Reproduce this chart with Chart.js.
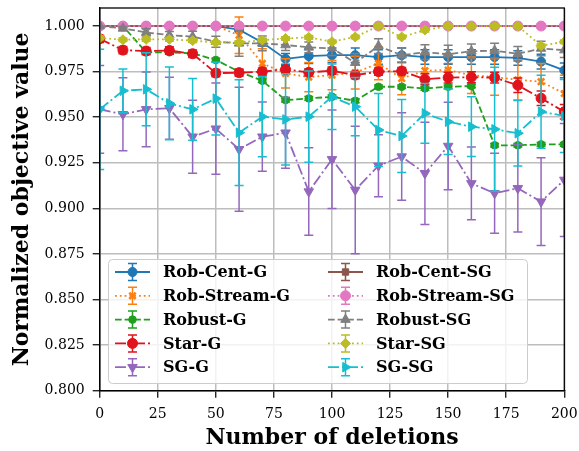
<!DOCTYPE html>
<html>
<head>
<meta charset="utf-8">
<script src="https://cdn.jsdelivr.net/npm/chart.js@4.4.1/dist/chart.umd.min.js"></script>
<style>
  html, body { margin: 0; padding: 0; background: #fff; }
</style>
</head>
<body>
<canvas id="myChart" width="579" height="451"></canvas>
<script>
// x values and ticks
const deletions = [0, 10, 20, 30, 40, 50, 60, 70, 80, 90, 100, 110, 120, 130, 140, 150, 160, 170, 180, 190, 200];
const xTicks = [0, 25, 50, 75, 100, 125, 150, 175, 200];
const yTicks = [0.800, 0.825, 0.850, 0.875, 0.900, 0.925, 0.950, 0.975, 1.000];

// series (mean values) and error bar half widths
const robCentG = [1.000, 1.000, 1.000, 1.000, 1.000, 1.000, 0.998, 0.991, 0.982, 0.9835, 0.984, 0.984, 0.983, 0.984, 0.983, 0.983, 0.983, 0.983, 0.9825, 0.9805, 0.9757];
const robCentGErr = [0, 0, 0, 0, 0, 0, 0.001, 0.002, 0.003, 0.004, 0.004, 0.004, 0.004, 0.004, 0.004, 0.004, 0.004, 0.004, 0.004, 0.004, 0.004];

const robStreamG = [1.000, 1.000, 1.000, 1.000, 1.000, 1.000, 0.995, 0.9795, 0.974, 0.972, 0.9731, 0.9745, 0.9795, 0.9713, 0.9755, 0.9759, 0.973, 0.972, 0.9705, 0.9695, 0.963];
const robStreamGErr = [0, 0, 0, 0, 0, 0, 0.010, 0.008, 0.008, 0.008, 0.008, 0.009, 0.009, 0.009, 0.009, 0.009, 0.010, 0.010, 0.011, 0.010, 0.010];

const robustG = [1.000, 1.000, 0.9856, 0.9856, 0.985, 0.9814, 0.975, 0.970, 0.9594, 0.9603, 0.9612, 0.959, 0.9667, 0.9667, 0.9658, 0.9667, 0.9671, 0.9346, 0.9346, 0.9351, 0.9351];
const robustGErr = [0, 0, 0.001, 0.001, 0.001, 0.001, 0.001, 0.001, 0.001, 0.001, 0.001, 0.001, 0.001, 0.001, 0.001, 0.001, 0.001, 0.001, 0.001, 0.001, 0.001];

const starG = [0.993, 0.9868, 0.9863, 0.9866, 0.9848, 0.9742, 0.9744, 0.975, 0.9762, 0.9746, 0.9755, 0.9731, 0.975, 0.9753, 0.9708, 0.9717, 0.9719, 0.9717, 0.9675, 0.9604, 0.953];
const starGErr = [0.002, 0.002, 0.002, 0.002, 0.002, 0.002, 0.002, 0.002, 0.002, 0.002, 0.002, 0.002, 0.002, 0.002, 0.003, 0.003, 0.003, 0.003, 0.004, 0.004, 0.004];

const sgG = [0.9543, 0.9516, 0.9543, 0.9549, 0.9393, 0.9437, 0.9324, 0.9393, 0.9415, 0.9092, 0.9269, 0.9101, 0.9234, 0.9284, 0.9192, 0.9342, 0.9137, 0.9083, 0.911, 0.9037, 0.9156];
const sgGErr = [0.024, 0.020, 0.0205, 0.017, 0.020, 0.025, 0.034, 0.019, 0.0195, 0.024, 0.027, 0.035, 0.017, 0.024, 0.028, 0.024, 0.020, 0.022, 0.024, 0.024, 0.031];

const robCentSG = [1.000, 1.000, 1.000, 1.000, 1.000, 1.000, 1.000, 1.000, 1.000, 1.000, 1.000, 1.000, 1.000, 1.000, 1.000, 1.000, 1.000, 1.000, 1.000, 1.000, 1.000];
const robCentSGErr = [0, 0, 0, 0, 0, 0, 0, 0, 0, 0, 0, 0, 0, 0, 0, 0, 0, 0, 0, 0, 0];

const robStreamSG = [1.000, 1.000, 1.000, 1.000, 1.000, 1.000, 1.000, 1.000, 1.000, 1.000, 1.000, 1.000, 1.000, 1.000, 1.000, 1.000, 1.000, 1.000, 1.000, 1.000, 1.000];
const robStreamSGErr = [0, 0, 0, 0, 0, 0, 0, 0, 0, 0, 0, 0, 0, 0, 0, 0, 0, 0, 0, 0, 0];

const robustSG = [1.000, 0.9987, 0.9965, 0.995, 0.9942, 0.9914, 0.9905, 0.9905, 0.9896, 0.9883, 0.9878, 0.9799, 0.989, 0.984, 0.9857, 0.9845, 0.9862, 0.9865, 0.9848, 0.9877, 0.9868];
const robustSGErr = [0, 0.001, 0.002, 0.002, 0.003, 0.003, 0.007, 0.004, 0.003, 0.003, 0.004, 0.005, 0.004, 0.004, 0.004, 0.005, 0.004, 0.004, 0.004, 0.004, 0.004];

const starSG = [0.9935, 0.9925, 0.9927, 0.9927, 0.992, 0.991, 0.991, 0.9923, 0.9932, 0.9938, 0.9914, 0.994, 1.000, 0.994, 0.9978, 1.000, 1.000, 1.000, 1.000, 0.9892, 0.9914];
const starSGErr = [0.001, 0.001, 0.001, 0.001, 0.001, 0.001, 0.001, 0.001, 0.001, 0.001, 0.001, 0.001, 0.001, 0.001, 0.001, 0.001, 0.001, 0.001, 0.001, 0.001, 0.001];

const sgSG = [0.9543, 0.9645, 0.9653, 0.9576, 0.9543, 0.9602, 0.9415, 0.9503, 0.9488, 0.9503, 0.9612, 0.9558, 0.943, 0.9397, 0.9521, 0.9475, 0.9448, 0.9434, 0.9412, 0.953, 0.9507];
const sgSGErr = [0.033, 0.012, 0.020, 0.020, 0.017, 0.020, 0.029, 0.022, 0.025, 0.025, 0.018, 0.016, 0.020, 0.020, 0.0164, 0.018, 0.0164, 0.034, 0.018, 0.020, 0.020];

const DOTTED = [1.8, 3];
const DASHED = [6.7, 2.9];
const DASHDOT = [11, 3, 2, 3];

function series(label, vals, errs, color, dash, style, radius, rot) {
    return {
        label: label,
        data: deletions.map((d, i) => ({ x: d, y: vals[i] })),
        errs: errs,
        borderColor: color,
        backgroundColor: color,
        pointBackgroundColor: color,
        pointBorderColor: color,
        borderWidth: 1.8,
        borderDash: dash,
        pointStyle: style,
        pointRadius: radius,
        pointRotation: rot || 0,
        pointBorderWidth: style == 'crossRot' ? 2.6 : 1,
        fill: false,
        tension: 0
    };
}

const datasets = [
    series('Rob-Cent-G', robCentG, robCentGErr, '#1f77b4', [], 'circle', 4.5),
    series('Rob-Stream-G', robStreamG, robStreamGErr, '#ff7f0e', DOTTED, 'crossRot', 4.5),
    series('Robust-G', robustG, robustGErr, '#1ea01e', DASHED, 'circle', 3.8),
    series('Star-G', starG, starGErr, '#e0131c', DASHDOT, 'circle', 5),
    series('SG-G', sgG, sgGErr, '#9467bd', DASHDOT, 'triangle', 5.5, 180),
    series('Rob-Cent-SG', robCentSG, robCentSGErr, '#8c564b', [], 'rect', 4.5),
    series('Rob-Stream-SG', robStreamSG, robStreamSGErr, '#e377c2', DOTTED, 'circle', 5),
    series('Robust-SG', robustSG, robustSGErr, '#7f7f7f', DASHED, 'triangle', 5.5),
    series('Star-SG', starSG, starSGErr, '#bcbd22', DOTTED, 'rectRot', 5),
    series('SG-SG', sgSG, sgSGErr, '#17becf', DASHDOT, 'triangle', 5.5, 90)
];
// later series on top, as in the original
datasets.forEach((ds, i) => { ds.order = datasets.length - i; });

function markerAt(ctx, ds, x, y) {
    ctx.save();
    ctx.setLineDash([]);
    ctx.fillStyle = ds.borderColor;
    ctx.strokeStyle = ds.borderColor;
    ctx.lineWidth = ds.pointBorderWidth;
    Chart.helpers.drawPoint(ctx, {
        pointStyle: ds.pointStyle,
        rotation: ds.pointRotation,
        radius: ds.pointRadius,
        borderWidth: ds.pointBorderWidth
    }, x, y);
    ctx.restore();
}

function errorBar(ctx, x, top, bot, cap) {
    ctx.beginPath();
    ctx.moveTo(x, top);
    ctx.lineTo(x, bot);
    ctx.moveTo(x - cap, top);
    ctx.lineTo(x + cap, top);
    ctx.moveTo(x - cap, bot);
    ctx.lineTo(x + cap, bot);
    ctx.stroke();
}

const errorBars = {
    id: 'errorBars',
    beforeDatasetDraw(chart, args) {
        const ds = chart.data.datasets[args.index];
        const xs = chart.scales.x, ys = chart.scales.y;
        const ctx = chart.ctx;
        const area = chart.chartArea;
        ctx.save();
        ctx.beginPath();
        ctx.rect(area.left, area.top, area.right - area.left, area.bottom - area.top);
        ctx.clip();
        ctx.strokeStyle = ds.borderColor;
        ctx.lineWidth = 1.5;
        ctx.setLineDash([]);
        ds.errs.forEach((e, i) => {
            if (!e) return;
            const px = xs.getPixelForValue(ds.data[i].x);
            errorBar(ctx, px, ys.getPixelForValue(ds.data[i].y + e), ys.getPixelForValue(ds.data[i].y - e), 4.5);
        });
        ctx.restore();
    }
};

const frameAndLegend = {
    id: 'frameAndLegend',
    afterDatasetsDraw(chart) {
        const a = chart.chartArea;
        const ctx = chart.ctx;
        ctx.save();
        ctx.strokeStyle = '#000';
        ctx.lineWidth = 1.3;
        ctx.strokeRect(a.left, a.top, a.right - a.left, a.bottom - a.top);
        ctx.restore();
    },
    afterDraw(chart) {
        const ctx = chart.ctx;
        ctx.save();
        ctx.beginPath();
        ctx.roundRect(108.5, 259.5, 419, 124, 4);
        ctx.fillStyle = 'rgba(255,255,255,0.8)';
        ctx.fill();
        ctx.strokeStyle = '#cccccc';
        ctx.lineWidth = 1;
        ctx.stroke();
        chart.data.datasets.forEach((ds, i) => {
            const col = Math.floor(i / 5), row = i % 5;
            const x0 = col ? 328 : 115;
            const yy = 272 + row * 23.8;
            ctx.strokeStyle = ds.borderColor;
            ctx.lineWidth = 1.8;
            ctx.setLineDash(ds.borderDash);
            ctx.beginPath();
            ctx.moveTo(x0, yy);
            ctx.lineTo(x0 + 35, yy);
            ctx.stroke();
            ctx.setLineDash([]);
            ctx.lineWidth = 1.5;
            errorBar(ctx, x0 + 17.5, yy - 8.5, yy + 8.5, 4.5);
            markerAt(ctx, ds, x0 + 17.5, yy);
            ctx.fillStyle = '#000';
            ctx.font = 'bold 16px "DejaVu Serif"';
            ctx.textBaseline = 'middle';
            ctx.fillText(ds.label, x0 + 48, yy + 1);
        });
        ctx.restore();
    }
};

function noScalePadding(scale) {
    scale.paddingTop = 0;
    scale.paddingBottom = 0;
    scale.paddingLeft = 0;
    scale.paddingRight = 0;
}

const ctx = document.getElementById('myChart').getContext('2d');
const myChart = new Chart(ctx, {
    type: 'line',
    data: { datasets: datasets },
    options: {
        responsive: false,
        animation: false,
        devicePixelRatio: 1,
        layout: { padding: { top: 8, right: 14.7, left: 0, bottom: 0 } },
        plugins: { legend: { display: false }, tooltip: { enabled: false } },
        scales: {
            x: {
                type: 'linear',
                min: 0,
                max: 200,
                afterBuildTicks: (scale) => { scale.ticks = xTicks.map(v => ({ value: v })); },
                afterFit: (scale) => { scale.height = 60.3; noScalePadding(scale); },
                grid: { color: '#bdbdbd', lineWidth: 1.5, tickColor: '#000', tickLength: 7, tickWidth: 1.2 },
                border: { display: true, color: '#000', width: 1.3 },
                ticks: { color: '#000', font: { family: 'DejaVu Serif', size: 14 }, padding: 8, maxRotation: 0 },
                title: {
                    display: true,
                    text: 'Number of deletions',
                    color: '#000',
                    font: { family: 'DejaVu Serif', size: 22, weight: 'bold' },
                    padding: { top: 0, bottom: 0 }
                }
            },
            y: {
                type: 'linear',
                min: 0.8,
                max: 1.0099,
                afterBuildTicks: (scale) => { scale.ticks = yTicks.map(v => ({ value: v })); },
                afterFit: (scale) => { scale.width = 99.7; noScalePadding(scale); },
                grid: { color: '#bdbdbd', lineWidth: 1.5, tickColor: '#000', tickLength: 7, tickWidth: 1.2 },
                border: { display: true, color: '#000', width: 1.3 },
                ticks: {
                    color: '#000',
                    font: { family: 'DejaVu Serif', size: 14 },
                    padding: 8,
                    callback: (v) => v.toFixed(3)
                },
                title: {
                    display: true,
                    text: 'Normalized objective value',
                    color: '#000',
                    font: { family: 'DejaVu Serif', size: 22, weight: 'bold' },
                    padding: { top: 9, bottom: 0 }
                }
            }
        }
    },
    plugins: [errorBars, frameAndLegend]
});
</script>
</body>
</html>
